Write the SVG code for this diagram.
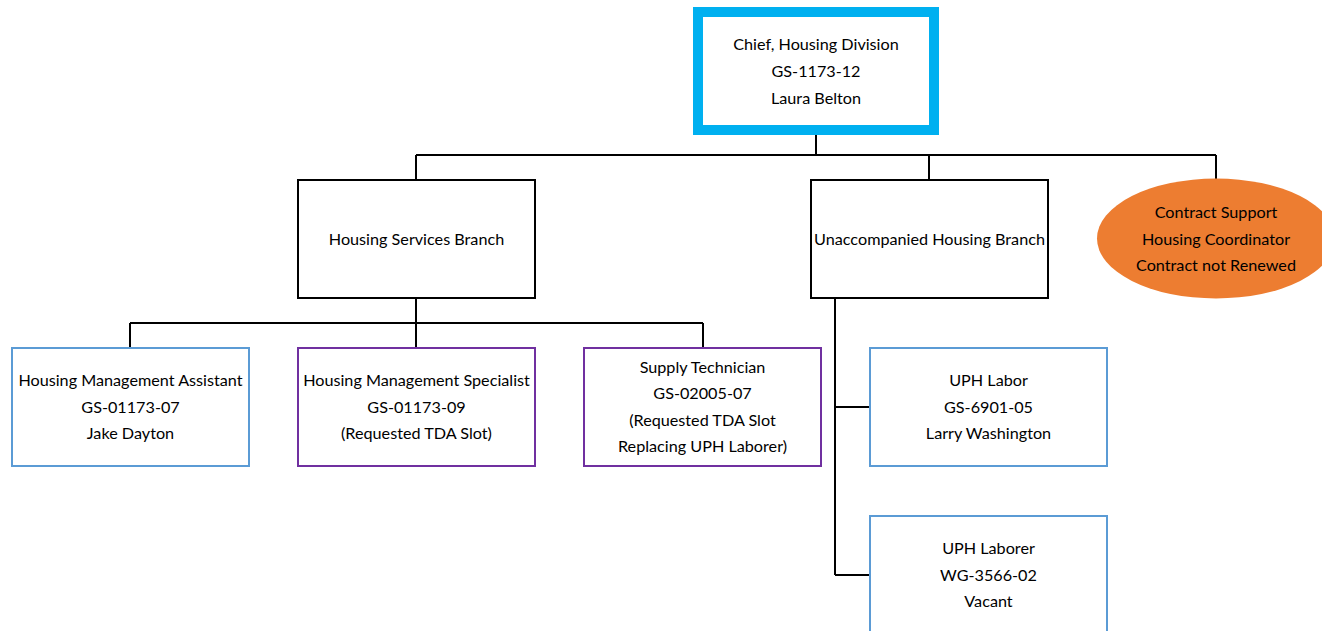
<svg xmlns="http://www.w3.org/2000/svg" width="1322" height="631" viewBox="0 0 1322 631">
<style>
text{font-family:Lato,"Open Sans","Liberation Sans",sans-serif;font-size:16.2px;fill:#000;text-anchor:middle;dominant-baseline:central}
.box{fill:#fff}
.blk{stroke:#000;stroke-width:2}
.blue{stroke:#5B9BD5;stroke-width:2}
.purp{stroke:#7030A0;stroke-width:2}
.conn{fill:none;stroke:#000;stroke-width:2}
</style>
<rect width="1322" height="631" fill="#fff"/>
<g id="connectors">
<path class="conn" d="M816 135V155M416 155H1216M416 155V180M929 155V180M1216 155V179"/>
<path class="conn" d="M416 298V323M130 323H703M130 323V348M416 323V348M703 323V348"/>
<path class="conn" d="M835 298V575M835 407H870M835 575H870"/>
</g>
<g id="chief">
<rect x="698" y="12" width="236" height="118" fill="#fff" stroke="#00B0F0" stroke-width="10"/>
<text x="816" y="43">Chief, Housing Division</text>
<text x="816" y="70">GS-1173-12</text>
<text x="816" y="97">Laura Belton</text>
</g>
<g id="hsb">
<rect class="box blk" x="298" y="180" width="237" height="118"/>
<text x="416.5" y="238">Housing Services Branch</text>
</g>
<g id="uhb">
<rect class="box blk" x="811" y="180" width="237" height="118"/>
<text x="929.5" y="238">Unaccompanied Housing Branch</text>
</g>
<g id="contract">
<ellipse cx="1216" cy="238.5" rx="119" ry="60" fill="#ED7D31"/>
<text x="1216" y="211">Contract Support</text>
<text x="1216" y="238">Housing Coordinator</text>
<text x="1216" y="264">Contract not Renewed</text>
</g>
<g id="hma">
<rect class="box blue" x="12" y="348" width="237" height="118"/>
<text x="130.5" y="379">Housing Management Assistant</text>
<text x="130.5" y="406">GS-01173-07</text>
<text x="130.5" y="432">Jake Dayton</text>
</g>
<g id="hms">
<rect class="box purp" x="298" y="348" width="237" height="118"/>
<text x="416.5" y="379">Housing Management Specialist</text>
<text x="416.5" y="406">GS-01173-09</text>
<text x="416.5" y="432">(Requested TDA Slot)</text>
</g>
<g id="st">
<rect class="box purp" x="584" y="348" width="237" height="118"/>
<text x="702.5" y="366">Supply Technician</text>
<text x="702.5" y="392">GS-02005-07</text>
<text x="702.5" y="419">(Requested TDA Slot</text>
<text x="702.5" y="445">Replacing UPH Laborer)</text>
</g>
<g id="uphlabor">
<rect class="box blue" x="870" y="348" width="237" height="118"/>
<text x="988.5" y="379">UPH Labor</text>
<text x="988.5" y="406">GS-6901-05</text>
<text x="988.5" y="432">Larry Washington</text>
</g>
<g id="uphlaborer">
<rect class="box blue" x="870" y="516" width="237" height="118"/>
<text x="988.5" y="547">UPH Laborer</text>
<text x="988.5" y="574">WG-3566-02</text>
<text x="988.5" y="600">Vacant</text>
</g>
</svg>
